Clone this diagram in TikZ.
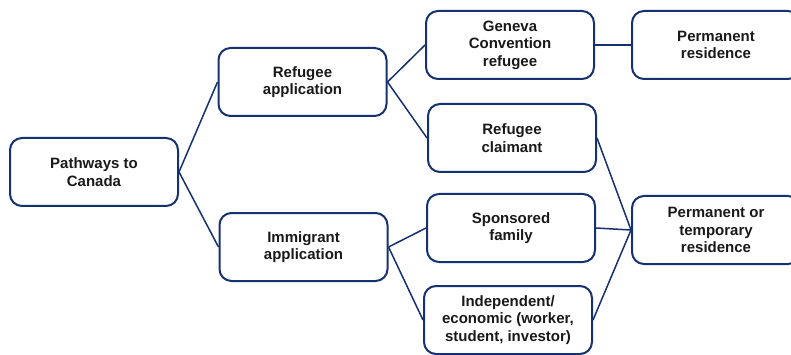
\documentclass[tikz,border=0pt]{standalone}
\usepackage{fontspec}
\setmainfont{Liberation Sans}
\definecolor{pathnavy}{HTML}{15316F}

\begin{document}
\begin{tikzpicture}[x=1pt,y=-1pt,
    stepbox/.style={draw=pathnavy, line width=2pt, rounded corners=12pt,
        minimum width=168pt, minimum height=68pt, align=center,
        font=\fontsize{15}{17.5}\selectfont\bfseries, text=black!90},
    link/.style={draw=pathnavy, line width=1.5pt}]
            \clip (0,0) rectangle (791,355);
            \useasboundingbox (0,0) rectangle (791,355);

            % Root
            \node[stepbox] (pathways) at (94,172) {Pathways to\\Canada};

            % Applications
            \node[stepbox] (refapp) at (302.5,82) {Refugee\\application};
            \node[stepbox] (immapp) at (303.5,247) {Immigrant\\application};

            % Categories
            \node[stepbox] (geneva) at (510,45) {Geneva\\Convention\\refugee};
            \node[stepbox] (claimant) at (512,138) {Refugee\\claimant};
            \node[stepbox] (sponsored) at (511,228) {Sponsored\\family};
            \node[stepbox] (independent) at (508,320) {Independent/\\economic (worker,\\student, investor)};

            % Outcomes
            \node[stepbox] (permres) at (716,45) {Permanent\\residence};
            \node[stepbox] (permtemp) at (716,230) {Permanent or\\temporary\\residence};

            % Links
            \draw[link] (pathways.east) -- (refapp.west);
            \draw[link] (pathways.east) -- (immapp.west);
            \draw[link] (refapp.east) -- (geneva.west);
            \draw[link] (refapp.east) -- (claimant.west);
            \draw[link] (immapp.east) -- (sponsored.west);
            \draw[link] (immapp.east) -- (independent.west);
            \draw[link] (geneva.east) -- (permres.west);
            \foreach \src in {claimant,sponsored,independent} {
                \draw[link] (\src.east) -- (permtemp.west);
            }
        \end{tikzpicture}
\end{document}
